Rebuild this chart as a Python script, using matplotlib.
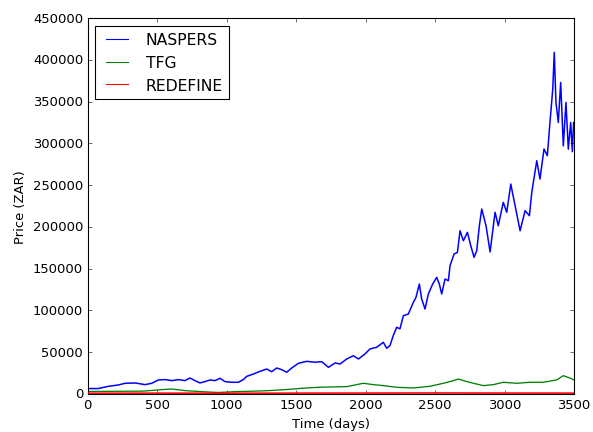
import matplotlib
matplotlib.use("Agg")
import matplotlib.pyplot as plt

# NASPERS price series (day, ZAR)
naspers_days = [0, 78, 150, 222, 270, 342, 414, 462, 510, 558, 606, 654, 701, 737, 773,
                809, 845, 881, 917, 953, 989, 1037, 1085, 1121, 1145, 1193, 1241, 1289,
                1325, 1361, 1397, 1433, 1469, 1517, 1577, 1637, 1685, 1733, 1781, 1817,
                1865, 1912, 1949, 1996, 2032, 2080, 2128, 2152, 2176, 2200, 2224, 2248,
                2272, 2308, 2344, 2363, 2387, 2404, 2428, 2452, 2483, 2512, 2531, 2548,
                2572, 2596, 2608, 2637, 2661, 2680, 2704, 2733, 2757, 2781, 2800, 2819,
                2836, 2867, 2896, 2932, 2955, 2991, 3016, 3045, 3076, 3112, 3148, 3179,
                3196, 3232, 3255, 3284, 3308, 3327, 3347, 3358, 3370, 3387, 3404, 3423,
                3442, 3459, 3476, 3488, 3497]
naspers_vals = [6500, 6500, 9200, 10800, 12800, 13200, 11200, 12800, 16800, 17200, 16000,
                17200, 16000, 19100, 16000, 13200, 14800, 16800, 16000, 18800, 14800,
                14000, 14000, 17200, 21100, 23900, 27100, 29900, 26700, 31100, 29100,
                26000, 31100, 36700, 39100, 38000, 38700, 31900, 37100, 35900, 41900,
                45800, 41900, 47900, 53900, 55900, 61900, 54700, 58000, 70000, 79800,
                78000, 93700, 95700, 109700, 115700, 131600, 113700, 101700, 119700,
                131600, 139600, 131600, 119700, 137600, 135600, 153500, 167500, 169500,
                195400, 183400, 193500, 177500, 163600, 171500, 201400, 221400, 201400,
                170000, 217500, 201400, 229400, 217500, 251300, 225400, 195400, 219400,
                213400, 241300, 279200, 257300, 293200, 285200, 325200, 365000, 409000,
                349000, 325000, 373000, 297000, 349000, 293000, 325000, 290000, 325000]

# TFG price series
tfg_days = [0, 200, 400, 534, 606, 701, 821, 941, 1061, 1181, 1301, 1421, 1541, 1660,
            1756, 1865, 1984, 2056, 2128, 2224, 2344, 2464, 2560, 2632, 2668, 2704,
            2776, 2848, 2920, 2991, 3088, 3183, 3279, 3375, 3423, 3471, 3497]
tfg_vals = [3000, 3200, 3400, 5200, 6000, 4000, 2800, 1800, 2800, 3300, 4000, 5200,
            6800, 8000, 8400, 8800, 12800, 11200, 10000, 8000, 7200, 9200, 12800, 16000,
            17900, 16000, 12800, 10000, 11200, 14000, 12800, 14000, 14000, 16800, 21900,
            19100, 17000]

# REDEFINE price series
redefine_days = [0, 500, 1000, 1500, 2000, 2500, 3000, 3497]
redefine_vals = [900, 1000, 900, 1000, 1100, 1200, 1100, 1000]

labels = ["NASPERS", "TFG", "REDEFINE"]

plt.style.use("classic")
DPI = 78.4
fig = plt.figure(figsize=(593 / DPI, 433 / DPI), dpi=DPI, facecolor="white")
ax = fig.add_axes([0.1476, 0.0878, 0.968 - 0.1476, 0.956 - 0.0878])

ax.plot(naspers_days, naspers_vals, color="b", lw=1.4, label=labels[0])
ax.plot(tfg_days, tfg_vals, color="g", lw=1.2, label=labels[1])
ax.plot(redefine_days, redefine_vals, color="r", lw=1.5, label=labels[2], zorder=3)

ax.set_xlim(0, 3500)
ax.set_ylim(0, 450000)
ax.set_xlabel("Time (days)")
ax.set_ylabel("Price (ZAR)")
leg = ax.legend(loc="upper left")
for h in leg.get_lines():
    h.set_linewidth(1.0)

fig.savefig("out.png", dpi=DPI, facecolor="white")
